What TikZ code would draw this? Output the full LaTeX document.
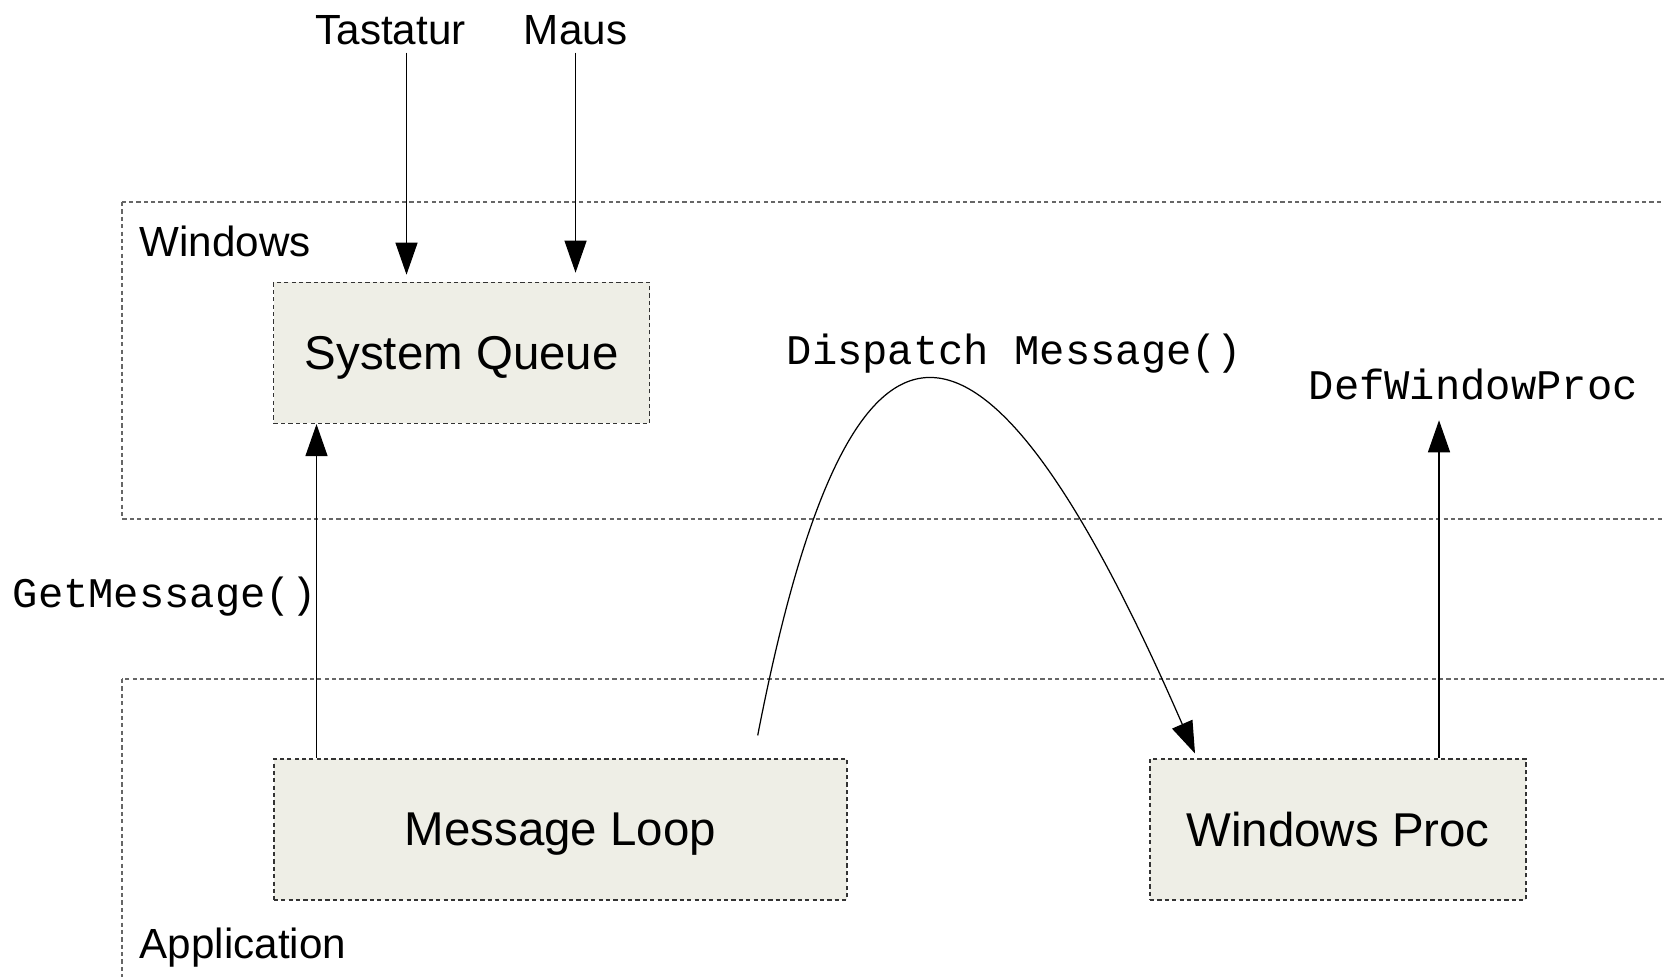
\documentclass[tikz,border=0pt]{standalone}
\usepackage{fontspec}
\setmainfont{Liberation Sans}
\newfontfamily\codefont{Liberation Mono}
\usepackage{xcolor}
\usetikzlibrary{arrows.meta,positioning}
\definecolor{boxfill}{RGB}{238,238,230}

\begin{document}
\begin{tikzpicture}[
    box/.style={
        draw=black!80,
        dash pattern=on 1.2pt off 0.9pt,
        line width=0.4pt,
        fill=boxfill,
        minimum height=1.41cm,
        text depth=0pt,
        font=\fontsize{13.5}{16}\selectfont
    },
    region/.style={
        draw=black!60,
        dash pattern=on 1.2pt off 0.9pt,
        line width=0.4pt
    },
    lbl/.style={inner sep=2pt, font=\fontsize{12}{14}\selectfont},
    code/.style={inner sep=2pt, font=\codefont\fontsize{12}{14}\selectfont},
    arrow/.style={-{Triangle[length=3.2mm,width=2.2mm]}, line width=0.35pt, draw=black}
]
\useasboundingbox (0,0) rectangle (16.64,-9.77);
\clip (0,0) rectangle (16.64,-9.77);

\draw[region] (1.22,-2.02) rectangle (17,-5.19);
\draw[region] (1.22,-6.79) rectangle (17,-10.2);

\node[lbl, anchor=base west] (win) at (1.32,-2.57) {Windows};
\node[lbl, anchor=base west] (app) at (1.32,-9.58) {Application};

\node[box, minimum width=3.76cm] (sysq) at (4.617,-3.529) {System Queue};
\node[box, minimum width=5.73cm] (loop) at (5.603,-8.294) {Message Loop};
\node[box, minimum width=3.76cm] (proc) at (13.38,-8.294) {Windows Proc};

\node[lbl, anchor=base] (tast) at (3.905,-0.446) {Tastatur};
\node[lbl, right=0.43cm of tast] (maus) {Maus};

\node[code, anchor=base west] (getmsg) at (0.05,-6.08) {GetMessage()};
\node[code, anchor=base west] (disp) at (7.79,-3.65) {Dispatch Message()};
\node[code, anchor=base west] (defw) at (13.01,-4.00) {DefWindowProc};

\path ([xshift=1.6mm]tast.south) coordinate (tastout);
\path ([xshift=4.35mm]sysq.south west) coordinate (getin);
\path ([xshift=10.1mm]proc.north) coordinate (defout);
\coordinate (dstart) at (7.577,-7.354);
\coordinate (dend) at (11.95,-7.535);

\draw[arrow, shorten >=0.7mm] (tastout) -- (tastout |- sysq.north);
\draw[arrow, shorten >=0.9mm] (maus.south) -- (maus.south |- sysq.north);
\draw[arrow] (getin |- loop.north) -- (getin);
\draw[arrow, shorten >=1.2mm] (defout) -- (defout |- defw.south);
\draw[arrow] (dstart) .. controls (8.5,-2.6) and (9.8,-2.6) .. (dend);

\end{tikzpicture}
\end{document}
